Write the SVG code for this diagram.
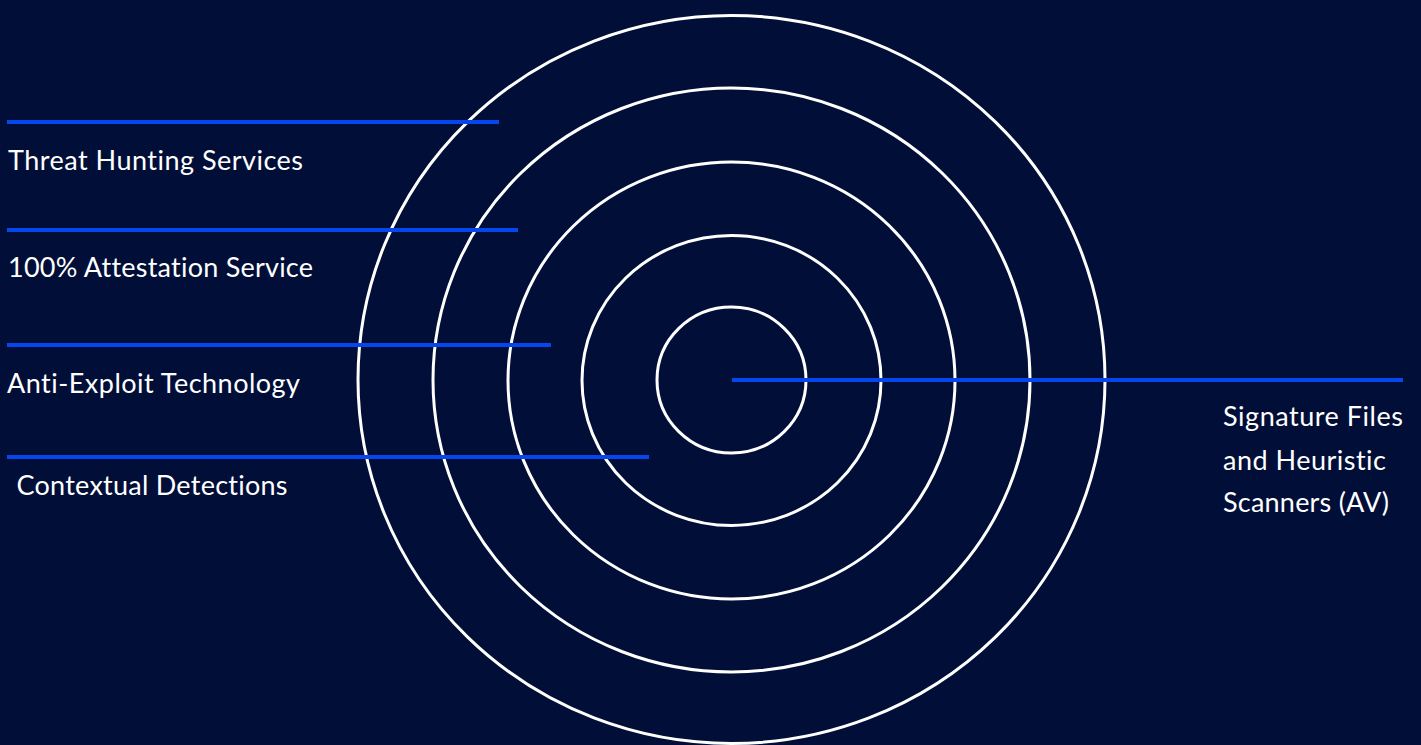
<svg xmlns="http://www.w3.org/2000/svg" width="1421" height="745" viewBox="0 0 1421 745">
<style>
.ring{fill:none;stroke:#ffffff;stroke-width:3}
.lead{stroke:#0646ee;stroke-width:4;fill:none}
.lbl{font-family:"Source Sans Pro","Lato","Noto Sans",sans-serif;font-size:27px;fill:#ffffff;font-variant-ligatures:none;font-feature-settings:"liga" 0}
</style>
<rect width="1421" height="745" fill="#000e38"/>
<g id="rings">
<ellipse id="ring-5" class="ring" cx="731.5" cy="379.5" rx="373.5" ry="364"/>
<ellipse id="ring-4" class="ring" cx="731.5" cy="380" rx="298.5" ry="292"/>
<ellipse id="ring-3" class="ring" cx="731.5" cy="380.5" rx="223.5" ry="218.5"/>
<ellipse id="ring-2" class="ring" cx="731.5" cy="380.5" rx="149.5" ry="145"/>
<ellipse id="ring-1" class="ring" cx="731.5" cy="380" rx="74.5" ry="73"/>
</g>
<g id="connectors">
<line class="lead" x1="7" y1="122" x2="499" y2="122"/>
<line class="lead" x1="7" y1="230" x2="518" y2="230"/>
<line class="lead" x1="7" y1="345" x2="551" y2="345"/>
<line class="lead" x1="7" y1="457" x2="649" y2="457"/>
<line class="lead" x1="732" y1="380" x2="1403" y2="380"/>
</g>
<g id="label-threat-hunting"><text class="lbl" x="8" y="170" textLength="295">Threat Hunting Services</text></g>
<g id="label-attestation"><text class="lbl" x="8" y="277" textLength="305">100% Attestation Service</text></g>
<g id="label-anti-exploit"><text class="lbl" x="7" y="393" textLength="293">Anti-Exploit Technology</text></g>
<g id="label-contextual"><text class="lbl" x="16.5" y="495" textLength="271">Contextual Detections</text></g>
<g id="label-signature">
<text class="lbl" x="1223" y="426" textLength="180">Signature Files</text>
<text class="lbl" x="1223" y="470" textLength="163">and Heuristic</text>
<text class="lbl" x="1223" y="512" textLength="166">Scanners (AV)</text>
</g>
</svg>
